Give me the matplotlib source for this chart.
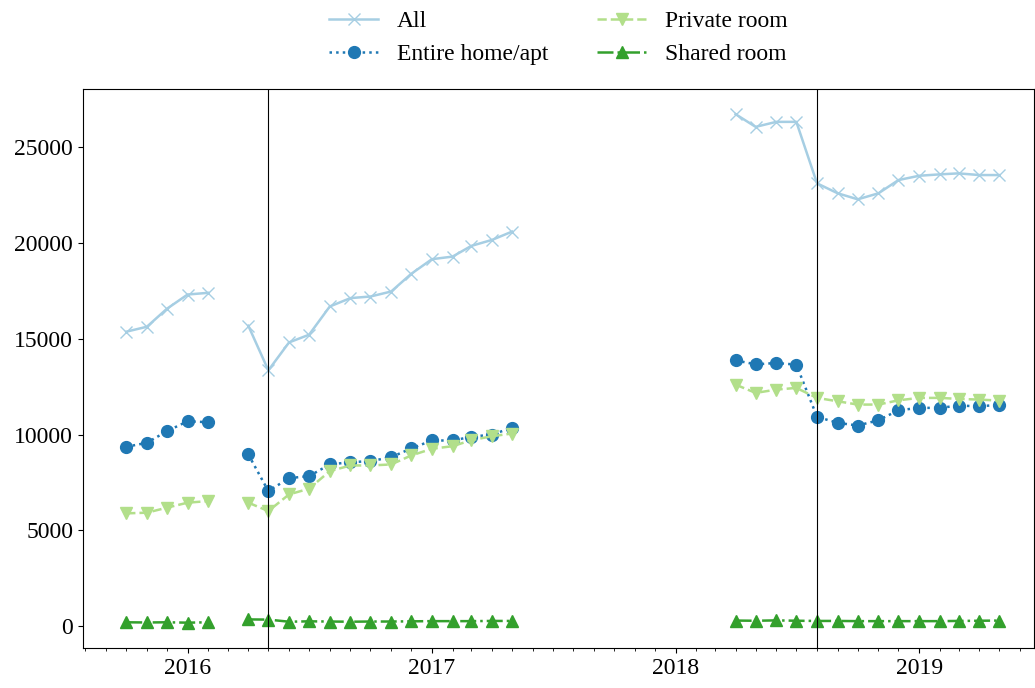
import datetime
import matplotlib
matplotlib.use('Agg')
import matplotlib.pyplot as plt
import matplotlib.dates as mdates
import numpy as np

plt.rcParams['font.family'] = ['Liberation Serif', 'DejaVu Serif']
plt.rcParams['font.size'] = 17


def months(y, m, n):
    out = []
    for i in range(n):
        yy = y + (m - 1 + i) // 12
        mm = (m - 1 + i) % 12 + 1
        out.append(datetime.date(yy, mm, 1))
    return out


# three scraping periods, monthly
dates_a = months(2015, 10, 5)
dates_b = months(2016, 4, 14)
dates_c = months(2018, 4, 14)

all_a = [15365, 15625, 16563, 17307, 17396]
all_b = [15677, 13349, 14807, 15208, 16682, 17120, 17203, 17464, 18385, 19151,
         19286, 19844, 20156, 20589]
all_c = [26719, 26057, 26318, 26318, 23109, 22589, 22276, 22589, 23281, 23505,
         23578, 23630, 23542, 23542]

entire_a = [9359, 9568, 10172, 10693, 10641]
entire_b = [8958, 7047, 7724, 7828, 8438, 8557, 8609, 8818, 9271, 9688,
            9688, 9880, 10000, 10349]
entire_c = [13870, 13661, 13734, 13646, 10922, 10609, 10469, 10745, 11266, 11391,
            11391, 11510, 11474, 11547]

private_a = [5885, 5920, 6182, 6443, 6526]
private_b = [6443, 6005, 6875, 7172, 8089, 8385, 8385, 8438, 8906, 9255,
             9391, 9703, 9911, 10052]
private_c = [12604, 12172, 12344, 12432, 11911, 11734, 11563, 11563, 11786, 11911,
             11911, 11859, 11823, 11771]

shared_a = [200, 190, 200, 180, 200]
shared_b = [350, 340, 230, 250, 240, 230, 240, 240, 250, 260,
            260, 260, 270, 270]
shared_c = [290, 280, 300, 280, 270, 270, 260, 260, 260, 260,
            260, 270, 280, 290]

events = [datetime.date(2016, 5, 1), datetime.date(2018, 8, 1)]


def main():
    fig = plt.figure(figsize=(10.35, 6.88), dpi=100)
    ax = fig.add_axes([0.080, 0.058, 0.919, 0.813])

    series = [
        ('All', [all_a, all_b, all_c], '-', 'x', '#a6cee3'),
        ('Entire home/apt', [entire_a, entire_b, entire_c], ':', 'o', '#1f78b4'),
        ('Private room', [private_a, private_b, private_c], '--', 'v', '#b2df8a'),
        ('Shared room', [shared_a, shared_b, shared_c], '-.', '^', '#33a02c'),
    ]
    for label, parts, ls, mk, col in series:
        for i, (d, v) in enumerate(zip([dates_a, dates_b, dates_c], parts)):
            ax.plot(d, v, linestyle=ls, marker=mk, color=col, lw=1.8, ms=8.5,
                    label=label if i == 0 else None)

    for e in events:
        ax.axvline(e, color='black', lw=0.8)

    ax.xaxis.set_major_locator(mdates.YearLocator())
    ax.xaxis.set_major_formatter(mdates.DateFormatter('%Y'))
    ax.xaxis.set_minor_locator(mdates.MonthLocator())
    ax.set_xlim(datetime.date(2015, 7, 28), datetime.date(2019, 6, 22))
    ax.set_yticks([0, 5000, 10000, 15000, 20000, 25000])

    ax.legend(loc='lower center', bbox_to_anchor=(0.5, 1.0), ncol=2,
              frameon=False, handlelength=2.1, labelspacing=0.48,
              columnspacing=2.05, borderaxespad=0.6)

    fig.savefig('out.png', dpi=100)


if __name__ == '__main__':
    main()
